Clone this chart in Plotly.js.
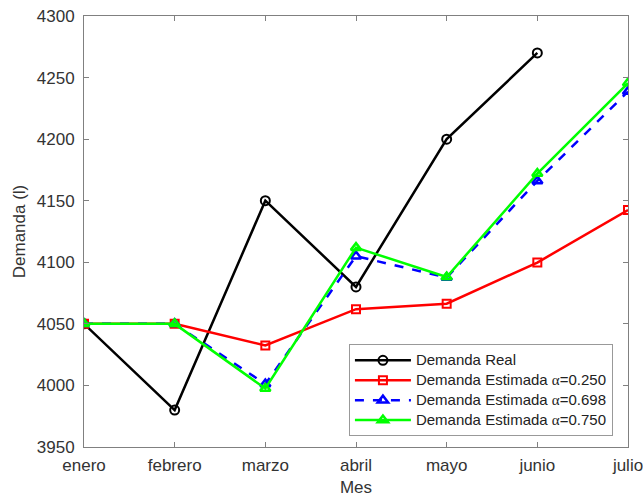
<!DOCTYPE html>
<html><head><meta charset="utf-8">
<script src="https://cdn.plot.ly/plotly-3.0.1.min.js"></script>
<style>html,body{margin:0;padding:0;background:#fff}</style>
</head><body><div id="chart" style="width:643px;height:497px"></div>
<script>
const months = ["enero","febrero","marzo","abril","mayo","junio","julio"];
const real = [4050, 3980, 4150, 4080, 4200, 4270, null];
const est025 = [4050, 4050, 4032.5, 4061.9, 4066.4, 4099.8, 4142.4];
const est0698 = [4050, 4050, 4001.1, 4105.0, 4087.6, 4166.1, 4238.6];
const est075 = [4050, 4050, 3997.5, 4111.9, 4088.0, 4172.0, 4245.5];
const names = ["Demanda Real", "Demanda Estimada α=0.250", "Demanda Estimada α=0.698", "Demanda Estimada α=0.750"];

function lbl(s) {
  return "<span style='font-size:15px'>" + s.replace("α", "<span style='font-family:Times New Roman'>α</span>") + "</span>";
}

const traces = [
  {x: months, y: real, name: lbl(names[0]), mode: "lines+markers",
   line: {color: "#000000", width: 2.5}, marker: {symbol: "circle-open", size: 9, color: "#000000", line: {width: 2}}},
  {x: months, y: est025, name: lbl(names[1]), mode: "lines+markers",
   line: {color: "#ff0000", width: 2.5}, marker: {symbol: "square-open", size: 8, color: "#ff0000", line: {width: 2}}},
  {x: months, y: est0698, name: lbl(names[2]), mode: "lines+markers",
   line: {color: "#0000ff", width: 2.5, dash: "dash"}, marker: {symbol: "triangle-up-open", size: 9, color: "#0000ff", line: {width: 2.5}}},
  {x: months, y: est075, name: lbl(names[3]), mode: "lines+markers",
   line: {color: "#00ff00", width: 2.5}, marker: {symbol: "triangle-up-open", size: 9, color: "#00ff00", line: {width: 2.5}}}
];

const axisCommon = {
  showgrid: false, zeroline: false, showline: true, linecolor: "#808080", linewidth: 1,
  mirror: "allticks", ticks: "inside", ticklen: 5, tickcolor: "#808080",
  tickfont: {family: "Arial, Liberation Sans, sans-serif", size: 17, color: "#333333"}
};

const layout = {
  width: 643, height: 497,
  margin: {l: 84, r: 15, t: 16, b: 50},
  paper_bgcolor: "#ffffff", plot_bgcolor: "#ffffff",
  font: {family: "Arial, Liberation Sans, sans-serif", color: "#333333"},
  xaxis: Object.assign({}, axisCommon, {
    type: "category", range: [0, 6], categoryorder: "array", categoryarray: months,
    ticklabelstandoff: 3,
    title: {text: "Mes", font: {size: 17, color: "#333333"}, standoff: 6}
  }),
  yaxis: Object.assign({}, axisCommon, {
    range: [3950, 4300], dtick: 50, tick0: 3950,
    ticklabelstandoff: 5,
    title: {text: "Demanda (l)", font: {size: 17, color: "#333333"}, standoff: 6}
  }),
  showlegend: true,
  legend: {
    x: 0.487, y: 0.238, xanchor: "left", yanchor: "top",
    bgcolor: "#ffffff", bordercolor: "#999999", borderwidth: 1,
    font: {family: "Arial, Liberation Sans, sans-serif", size: 13, color: "#222222"},
    tracegroupgap: 0, itemwidth: 56
  }
};

Plotly.newPlot("chart", traces, layout, {displayModeBar: false, staticPlot: true});
</script></body></html>
